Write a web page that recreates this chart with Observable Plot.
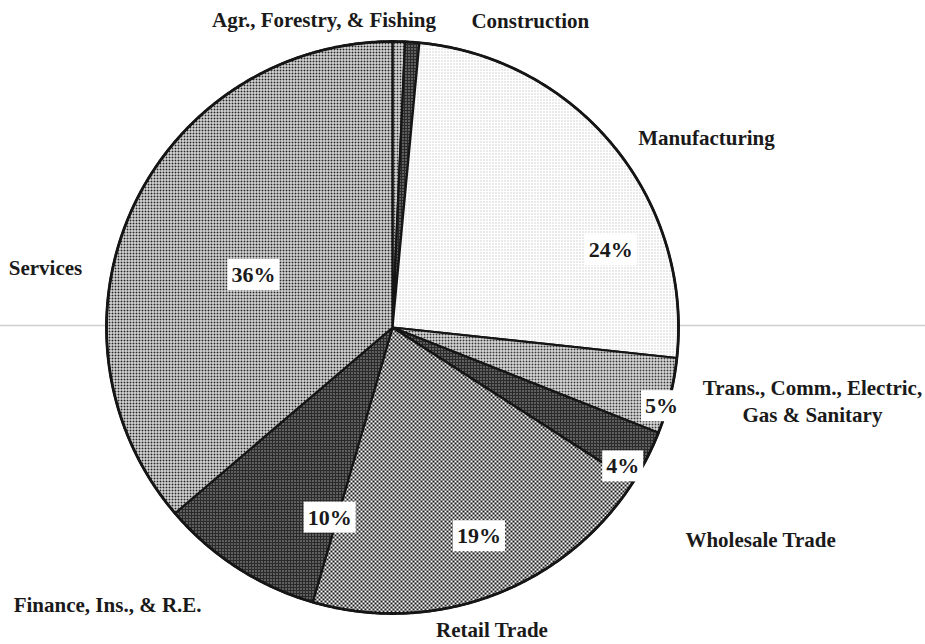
<!DOCTYPE html>
<html><head><meta charset="utf-8">
<script src="https://cdn.jsdelivr.net/npm/d3@7"></script>
<script src="https://cdn.jsdelivr.net/npm/@observablehq/plot@0.6"></script>
<style>body{margin:0;background:#fff} #chart{position:absolute;left:0;top:0}</style>
</head><body><div id="chart"></div>
<script>
// ---- data ----
const categories = ["Agr., Forestry, & Fishing", "Construction", "Manufacturing",
  "Trans., Comm., Electric,\nGas & Sanitary", "Wholesale Trade", "Retail Trade",
  "Finance, Ins., & R.E.", "Services"];
const shares = [0.7, 0.8, 25.2, 4.3, 3.1, 20.4, 9.25, 36.25];
const pctLabels = ["", "", "24%", "5%", "4%", "19%", "10%", "36%"];

// ---- styles / layout (kept apart from data) ----
const sliceFill = ["agr", "dark", "light", "trans", "dark", "checker", "dark", "medium"];
// polar placement (degrees clockwise from 12 o'clock, radius as fraction of pie radius)
const outerLabelAngle = [347.5, 24.1, 58.7, 99.8, 119.8, 161.7, 225.9, 280.0];
const outerLabelRadius = [1.107, 1.18, 1.285, 1.49, 1.483, 1.108, 1.387, 1.232];
const pctLabelAngle = [0, 0, 70.5, 106.3, 121.1, 157.5, 198.3, 290.7];
const pctLabelRadius = [0, 0, 0.81, 0.98, 0.94, 0.79, 0.70, 0.52];

const total = d3.sum(shares);
let cum = 0;
const slices = categories.map((c, i) => {
  const a0 = cum / total * 360; cum += shares[i];
  const a1 = cum / total * 360;
  const n = Math.max(2, Math.ceil((a1 - a0) / 0.5));
  const points = [{x: 0, y: 0}];
  for (let k = 0; k <= n; k++) {
    const a = (a0 + (a1 - a0) * k / n) * Math.PI / 180;
    points.push({x: Math.sin(a), y: Math.cos(a)});
  }
  points.push({x: 0, y: 0});
  return {c, i, a0, a1, points};
});
const rim = d3.range(0, 361, 0.5).map(d => ({x: Math.sin(d * Math.PI / 180), y: Math.cos(d * Math.PI / 180)}));
const polar = (deg, r) => ({x: r * Math.sin(deg * Math.PI / 180), y: r * Math.cos(deg * Math.PI / 180)});
const outer = categories.map((c, i) => ({text: c, ...polar(outerLabelAngle[i], outerLabelRadius[i])}));
const pct = pctLabels.map((t, i) => ({text: t, ...polar(pctLabelAngle[i], pctLabelRadius[i])})).filter(d => d.text);

const font = "'Liberation Serif', 'Times New Roman', serif";
const plot = Plot.plot({
  width: 925, height: 644, margin: 0,
  x: {domain: [-1, 1], range: [106, 678], axis: null},
  y: {domain: [-1, 1], range: [613, 41], axis: null},
  style: {background: "white", fontFamily: font},
  marks: [
    Plot.ruleY([0], {stroke: "#cfcfcf", strokeWidth: 1.5, dy: -2}),
    ...slices.map(s => Plot.line(s.points, {x: "x", y: "y", fill: `url(#pat-${sliceFill[s.i]})`,
      stroke: "#151515", strokeWidth: 2.2, strokeLinejoin: "round"})),
    Plot.line(rim, {x: "x", y: "y", stroke: "#151515", strokeWidth: 2.8}),
    Plot.text(outer, {x: "x", y: "y", text: "text", fontSize: 21, fontWeight: "bold",
      fill: "#1a1a1a", lineHeight: 1.3}),
    Plot.text(pct, {x: "x", y: "y", text: "text", fontSize: 22, fontWeight: "bold",
      fill: "#1a1a1a"})
  ]
});
document.getElementById("chart").appendChild(plot);

// patterns
const svg = d3.select(plot);
const defs = svg.insert("defs", ":first-child");
function pat(id, size, bg, fg, rects) {
  const p = defs.append("pattern").attr("id", "pat-" + id).attr("patternUnits", "userSpaceOnUse")
    .attr("width", size).attr("height", size);
  p.append("rect").attr("width", size).attr("height", size).attr("fill", bg);
  for (const [x, y, w, h] of rects) p.append("rect").attr("x", x).attr("y", y).attr("width", w).attr("height", h).attr("fill", fg);
}
pat("light", 3, "#ffffff", "#acacac", [[0, 0, 1, 1]]);
pat("medium", 3, "#ffffff", "#262626", [[0, 0, 2, 2]]);
pat("agr", 3, "#ffffff", "#333333", [[0, 0, 2, 2]]);
pat("trans", 3, "#ffffff", "#383838", [[0, 0, 2, 2]]);
pat("checker", 4, "#ffffff", "#1a1a1a", [[0, 0, 2, 2], [2, 2, 2, 2]]);
pat("dark", 3, "#2a2a2a", "#ffffff", [[0, 0, 1, 1]]);

// white boxes behind percentage labels (last text mark)
const textGroups = plot.querySelectorAll('g[aria-label="text"]');
const pctGroup = textGroups[textGroups.length - 1];
pctGroup.querySelectorAll("text").forEach(t => {
  const b = t.getBBox();
  const r = document.createElementNS("http://www.w3.org/2000/svg", "rect");
  r.setAttribute("x", b.x - 4); r.setAttribute("y", b.y - 3);
  r.setAttribute("width", b.width + 8); r.setAttribute("height", b.height + 6);
  r.setAttribute("fill", "white");
  const tr = t.getAttribute("transform");
  if (tr) r.setAttribute("transform", tr);
  pctGroup.insertBefore(r, t);
});
</script></body></html>
